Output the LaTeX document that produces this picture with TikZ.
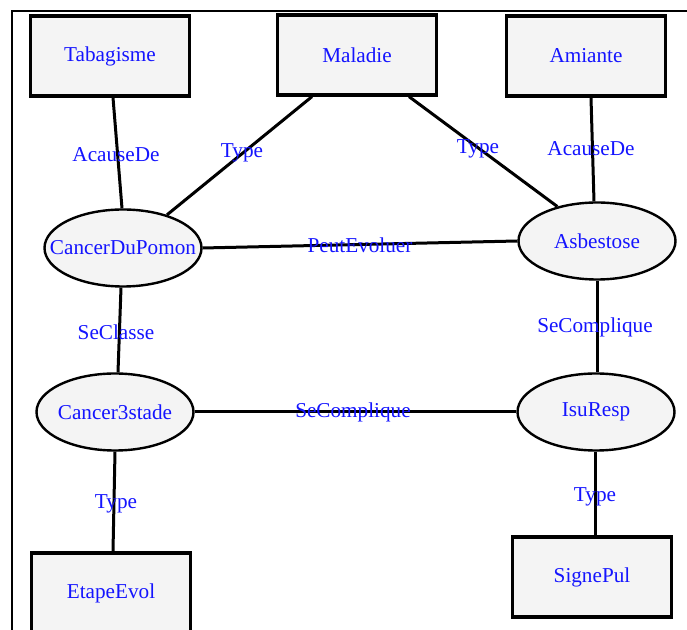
\documentclass[tikz,border=0pt]{standalone}
\usepackage{fontspec}
\setmainfont{Liberation Serif}
\usetikzlibrary{shapes.geometric}
\definecolor{boxfill}{RGB}{244,244,244}
\definecolor{labelblue}{RGB}{20,20,255}
\tikzset{
  concept/.style={draw=black, line width=1.6pt, fill=boxfill, text=labelblue,
    minimum width=79.5pt, minimum height=40pt, inner sep=0pt,
    font=\fontsize{10.6}{12}\selectfont},
  instance/.style={ellipse, draw=black, line width=1.2pt, fill=boxfill, text=labelblue,
    minimum width=78.5pt, minimum height=38.5pt, inner sep=0pt,
    font=\fontsize{10.6}{12}\selectfont},
  link/.style={draw=black, line width=1.5pt},
  rel/.style={text=labelblue, inner sep=0pt, font=\fontsize{10.6}{12}\selectfont}
}
% a text that takes no width, so an ellipse keeps its set size
\newcommand{\zw}[1]{\makebox[0pt]{#1}}
\begin{document}
\begin{tikzpicture}[x=0.5pt, y=-0.5pt]
  \useasboundingbox (0,0) rectangle (687,630);
  \fill[white] (0,0) rectangle (687,630);
  \begin{scope}
    \clip (0,0) rectangle (687,630);
    % frame lines along top and left
    \draw[black, line width=1.2pt] (12,630) -- (12,11) -- (687,11);

    % concept boxes
    \node[concept] (tab) at (110,56) {Tabagisme};
    \node[concept] (mal) at (357,55) {Maladie};
    \node[concept] (ami) at (586,56) {Amiante};
    \node[concept] (eta) at (111,593) {EtapeEvol};
    \node[concept] (sig) at (592,577) {SignePul};

    % instance ellipses
    \node[instance] (cdp) at (123,248) {\zw{CancerDuPomon}};
    \node[instance] (asb) at (597,241) {\zw{Asbestose}};
    \node[instance] (c3s) at (115,412) {\zw{Cancer3stade}};
    \node[instance] (isu) at (596,412) {\zw{IsuResp}};

    % relations
    \draw[link] ([xshift=1.5pt]tab.south) -- ([xshift=-0.5pt]cdp.north);
    \draw[link] ([xshift=-22.5pt]mal.south) -- (cdp.37);
    \draw[link] ([xshift=26pt]mal.south) -- (asb.139);
    \draw[link] ([xshift=2.5pt]ami.south) -- ([xshift=-1.5pt]asb.north);
    \draw[link] (cdp.east) -- (asb.west);
    \draw[link] ([xshift=-1pt]cdp.south) -- ([xshift=1.5pt]c3s.north);
    \draw[link] (c3s.east) -- (isu.west);
    \draw[link] (asb.south) -- ([xshift=0.5pt]isu.north);
    \draw[link] (c3s.south) -- ([xshift=1pt]eta.north);
    \draw[link] ([xshift=-0.5pt]isu.south) -- ([xshift=1.5pt]sig.north);

    % relation labels
    \node[rel] (l1) at (116,155) {AcauseDe};
    \node[rel] (l2) at (242,153) {Type};
    \node[rel] (l3) at (478,149) {Type};
    \node[rel] (l4) at (591,149) {AcauseDe};
    \node[rel] (l5) at (360,245) {PeutEvoluer};
    \node[rel] (l6) at (116,332) {SeClasse};
    \node[rel] (l7) at (595,327) {SeComplique};
    \node[rel] (l8) at (353,412) {SeComplique};
    \node[rel] (l9) at (116,504) {Type};
    \node[rel] (l10) at (595,497) {Type};
  \end{scope}
\end{tikzpicture}
\end{document}
